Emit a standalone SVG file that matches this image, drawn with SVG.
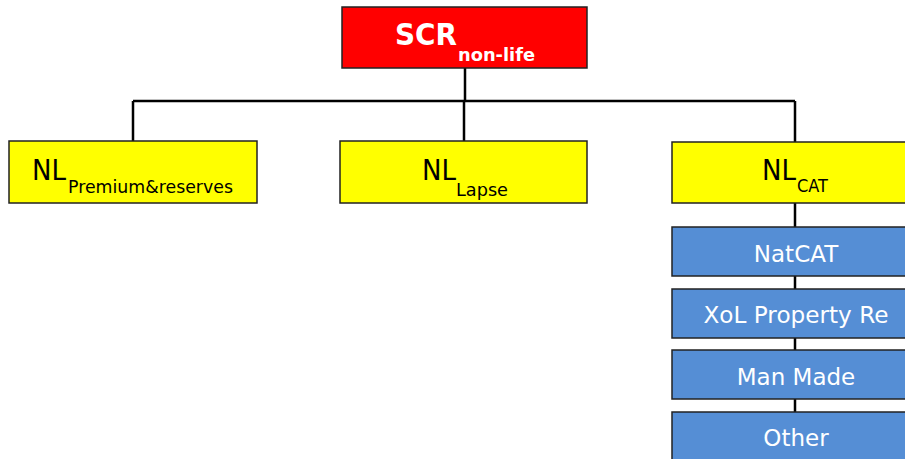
<svg xmlns="http://www.w3.org/2000/svg" width="905" height="459" viewBox="0 0 905 459">
<style>
text{font-family:"DejaVu Sans","Verdana",sans-serif;}
.box{stroke:#222;stroke-width:1.5;}
.red{fill:#FF0000;}
.yel{fill:#FFFF00;}
.blu{fill:#558ED5;}
.conn{stroke:#000;stroke-width:2.5;fill:none;}
.nl{font-size:28px;fill:#000;}
.sub{font-size:17px;fill:#000;}
.wt{font-size:23px;fill:#fff;}
</style>
<g id="connectors">
<path class="conn" d="M465,68 V101 M133,101 H795 M133,101 V141 M464,101 V141 M795,101 V142"/>
<path class="conn" d="M795,203 V227 M795,276 V289 M795,338 V350 M795,399 V412"/>
</g>
<g id="scr">
<rect class="box red" x="342" y="7" width="245" height="61"/>
<text x="395" y="45" font-size="31" font-weight="bold" fill="#fff" textLength="62" lengthAdjust="spacingAndGlyphs">SCR</text>
<text x="458" y="61" font-size="18" font-weight="bold" fill="#fff" textLength="77" lengthAdjust="spacingAndGlyphs">non-life</text>
</g>
<g id="nl-premium">
<rect class="box yel" x="9" y="141" width="248" height="62"/>
<text class="nl" x="32" y="180" textLength="34" lengthAdjust="spacingAndGlyphs">NL</text>
<text class="sub" x="68" y="193" textLength="165" lengthAdjust="spacingAndGlyphs">Premium&amp;reserves</text>
</g>
<g id="nl-lapse">
<rect class="box yel" x="340" y="141" width="247" height="62"/>
<text class="nl" x="422" y="180" textLength="34" lengthAdjust="spacingAndGlyphs">NL</text>
<text class="sub" x="456" y="196" textLength="52" lengthAdjust="spacingAndGlyphs">Lapse</text>
</g>
<g id="nl-cat">
<rect class="box yel" x="672" y="142" width="240" height="61"/>
<text class="nl" x="762" y="180" textLength="34" lengthAdjust="spacingAndGlyphs">NL</text>
<text class="sub" x="797" y="192" textLength="31" lengthAdjust="spacingAndGlyphs">CAT</text>
</g>
<g id="natcat">
<rect class="box blu" x="672" y="227" width="240" height="49"/>
<text class="wt" x="796" y="262" text-anchor="middle">NatCAT</text>
</g>
<g id="xol">
<rect class="box blu" x="672" y="289" width="240" height="49"/>
<text class="wt" x="796" y="323" text-anchor="middle" textLength="185" lengthAdjust="spacingAndGlyphs">XoL Property Re</text>
</g>
<g id="manmade">
<rect class="box blu" x="672" y="350" width="240" height="49"/>
<text class="wt" x="796" y="385" text-anchor="middle">Man Made</text>
</g>
<g id="other">
<rect class="box blu" x="672" y="412" width="240" height="60"/>
<text class="wt" x="796" y="446" text-anchor="middle">Other</text>
</g>
</svg>
